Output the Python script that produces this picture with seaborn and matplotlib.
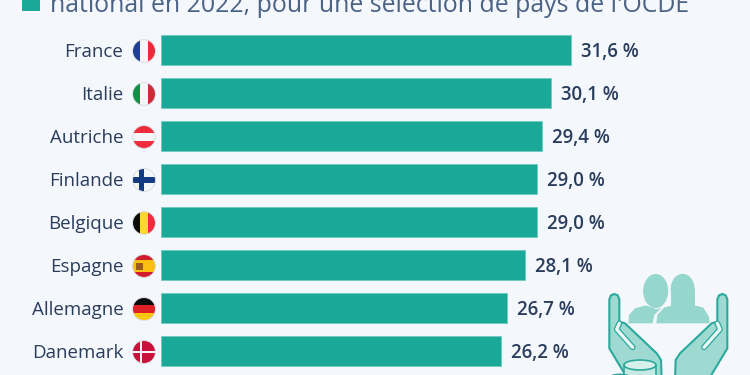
import matplotlib
matplotlib.use("Agg")
import matplotlib.pyplot as plt
from matplotlib.patches import Circle, Rectangle, Ellipse, Polygon
import seaborn as sns
import pandas as pd

countries = ["France", "Italie", "Autriche", "Finlande", "Belgique", "Espagne", "Allemagne", "Danemark"]
values = [31.6, 30.1, 29.4, 29.0, 29.0, 28.1, 26.7, 26.2]
value_labels = ["31,6 %", "30,1 %", "29,4 %", "29,0 %", "29,0 %", "28,1 %", "26,7 %", "26,2 %"]
title_line = "national en 2022, pour une sélection de pays de l'OCDE"

BG = "#f4f7fb"
TEAL = "#1aa898"
DARK = "#2a3d5c"
MID = "#4a6385"
plt.rcParams["font.family"] = ["Open Sans", "DejaVu Sans"]

fig = plt.figure(figsize=(7.5, 3.75), dpi=100, facecolor=BG)
ax = fig.add_axes([161 / 750, 0, 589 / 750, 1], facecolor="none")
df = pd.DataFrame({"pays": countries, "valeur": values})
sns.barplot(data=df, x="valeur", y="pays", orient="h", color=TEAL, saturation=1, width=30.4 / 43,
            edgecolor="#6cc9bd", linewidth=0.5, ax=ax)
ax.set_xlim(0, 589 / 12.96)
ax.set_ylim((375 - 50.1) / 43, -50.1 / 43)
ax.axis("off")
for i, (v, lab) in enumerate(zip(values, value_labels)):
    ax.annotate(lab, (v, i), xytext=(7.2, 0.7), textcoords="offset points", va="center_baseline", ha="left",
                fontsize=13.4, fontweight="semibold", color=DARK)

ov = fig.add_axes([0, 0, 1, 1], facecolor="none")
ov.set_xlim(0, 750)
ov.set_ylim(375, 0)
ov.axis("off")

ov.add_patch(Rectangle((22, -8), 18, 19, color=TEAL, lw=0))
ov.text(50, 11.5, title_line, fontsize=17.95, color=MID, va="baseline", ha="left", clip_on=True)


def flag(cy, stripes, vertical=True, extra=None):
    cx, r = 144, 11.4
    clip = Circle((cx, cy), r, transform=ov.transData)
    n = sum(s[1] for s in stripes)
    pos = 0
    for col, w in stripes:
        size = 2 * r * w / n
        if vertical:
            p = Rectangle((cx - r + pos, cy - r), size, 2 * r, color=col, lw=0)
        else:
            p = Rectangle((cx - r, cy - r + pos), 2 * r, size, color=col, lw=0)
        ov.add_patch(p)
        p.set_clip_path(clip)
        pos += size
    for col, (x, y, w, h) in (extra or []):
        p = Rectangle((cx + x, cy + y), w, h, color=col, lw=0)
        ov.add_patch(p)
        p.set_clip_path(clip)
    ov.add_patch(Circle((cx, cy), r, fc="none", ec="#d5d9df", lw=0.6))


flag_centers = [51.0 + 43 * i for i in range(8)]
flag(flag_centers[0], [("#1f3f94", 1), ("#f4f5f7", 1), ("#ee2a3a", 1)])
flag(flag_centers[1], [("#0d9245", 1), ("#f4f5f7", 1), ("#cd2b37", 1)])
flag(flag_centers[2], [("#ee2d3c", 1), ("#f4f5f7", 1), ("#ee2d3c", 1)], vertical=False)
flag(flag_centers[3], [("#f4f5f7", 1)],
     extra=[("#123a82", (-11.5, -2.6, 23, 5.2)), ("#123a82", (-5.5, -11.5, 5.2, 23))])
flag(flag_centers[4], [("#0c0c0c", 1), ("#fcd730", 1), ("#ee2d3c", 1)])
flag(flag_centers[5], [("#d01c2c", 1), ("#fbbf12", 2), ("#d01c2c", 1)], vertical=False,
     extra=[("#9a5a1c", (-8, -3, 7, 7))])
flag(flag_centers[6], [("#0c0c0c", 1), ("#df1f26", 1), ("#fcc80f", 1)], vertical=False)
flag(flag_centers[7], [("#c8103a", 1)],
     extra=[("#f4f5f7", (-11.5, -1.3, 23, 2.6)), ("#f4f5f7", (-4.5, -11.5, 2.6, 23))])

for i, name in enumerate(countries):
    ov.text(123.5, flag_centers[i] - 1.0, name, fontsize=13.5, color=DARK, ha="right", va="center_baseline")

# decorative icon, in pixel coordinates
SOFT = "#95d6cd"
LINE = "#2ba99c"
ZX = lambda z: 560 + z / 3
ZY = lambda z: 270 + z / 3
ov.add_patch(Ellipse((ZX(287), ZY(63)), 25, 34, fc=SOFT, lw=0))
ov.add_patch(Ellipse((ZX(368), ZY(58)), 24, 31, fc=SOFT, lw=0))
ov.add_patch(Rectangle((ZX(332), ZY(58)), 24.5, 26, fc=SOFT, lw=0))
ov.add_patch(Polygon([(ZX(205), ZY(160)), (ZX(207), ZY(135)), (ZX(225), ZY(115)), (ZX(258), ZY(106)),
                      (ZX(290), ZY(118)), (ZX(305), ZY(112)), (ZX(283), ZY(135)), (ZX(278), ZY(160))],
                     fc=SOFT, lw=0))
ov.add_patch(Polygon([(ZX(289), ZY(160)), (ZX(292), ZY(135)), (ZX(312), ZY(113)), (ZX(338), ZY(106)),
                      (ZX(365), ZY(120)), (ZX(400), ZY(105)), (ZX(430), ZY(113)), (ZX(447), ZY(140)), (ZX(449), ZY(160))],
                     fc=SOFT, lw=0))

hand = [(148, 88), (153, 76), (163, 72), (173, 76), (178, 88), (178, 155), (195, 160), (290, 250), (303, 270), (305, 330),
        (205, 330), (148, 235)]
hand_l = [(ZX(x), ZY(y)) for x, y in hand]
hand_r = [(ZX(650 - x), ZY(y)) for x, y in hand]
for pts in (hand_l, hand_r):
    ov.add_patch(Polygon(pts, closed=True, fc="#9fdad2", ec=LINE, lw=1.5))
for sign in (0, 1):
    fx = (lambda x: ZX(x)) if sign == 0 else (lambda x: ZX(650 - x))
    gx = [fx(178), fx(170), fx(218)]
    gy = [ZY(160), ZY(178), ZY(232)]
    ov.plot(gx, gy, color=LINE, lw=4.2, solid_capstyle="round", solid_joinstyle="round")
    ov.plot(gx, gy, color="#eaf7f5", lw=2.4, solid_capstyle="round", solid_joinstyle="round")
ov.add_patch(Rectangle((ZX(192), ZY(285)), 96 / 3, 50, fc="#c6e9e4", ec=LINE, lw=1.2))
ov.add_patch(Ellipse((ZX(240), ZY(285)), 32, 10, fc="#d8f0ec", ec=LINE, lw=1.2))
ov.add_patch(Ellipse((ZX(180), ZY(325)), 22, 8, fc="#e8f6f4", ec=LINE, lw=1.2))

fig.savefig("out.png", dpi=100, facecolor=BG)
